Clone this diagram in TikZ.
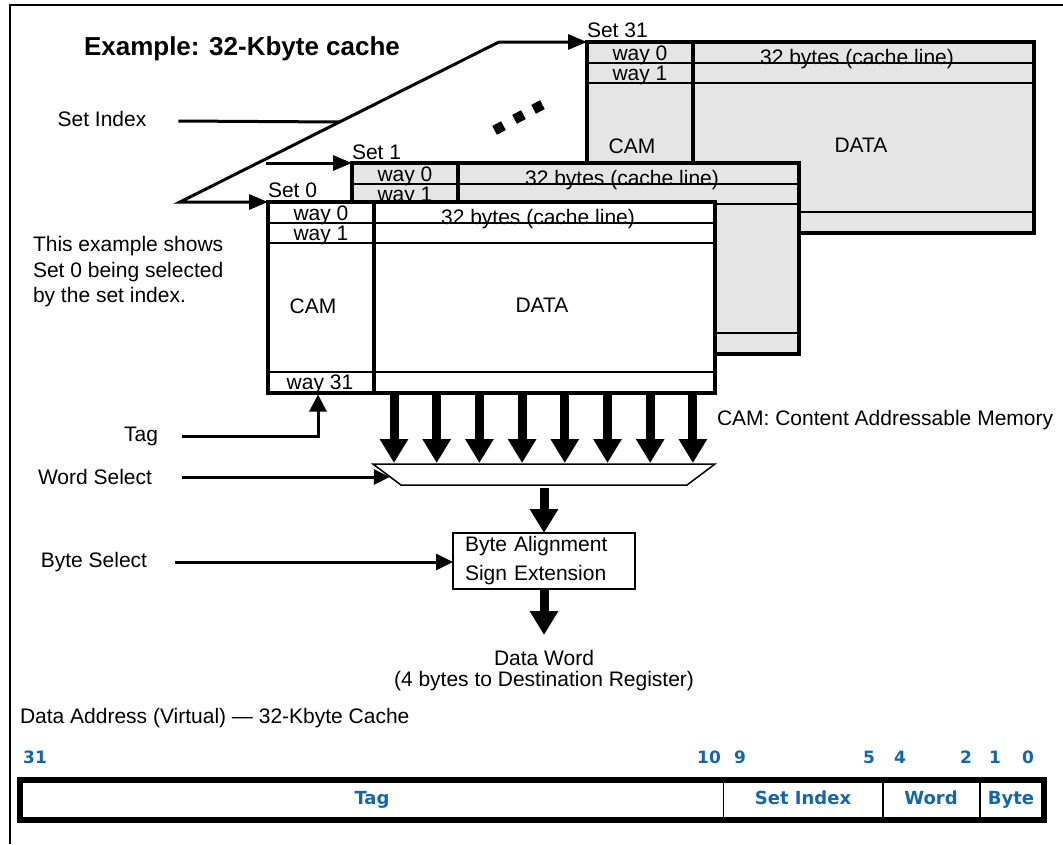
\documentclass[tikz,border=0pt]{standalone}
\usepackage{fontspec}
\setmainfont{Liberation Sans}
\newfontfamily\fieldfont{DejaVu Sans}
\usetikzlibrary{arrows.meta,calc}
\definecolor{setgray}{gray}{0.9}
\definecolor{fieldblue}{RGB}{21,101,172}

% outline, row rules and column rule of one cache set (447 x 191)
\newcommand\cacheframe[3]{%
  \node[setframe, fill=#3] (#1) at (#2) {};}
\newcommand\cacherules[1]{%
  \draw[rowline] ($(#1.north west)+(0,21)$) -- ($(#1.north east)+(0,21)$)
                 ($(#1.north west)+(0,41)$) -- ($(#1.north east)+(0,41)$)
                 ($(#1.south west)+(0,-21)$) -- ($(#1.south east)+(0,-21)$);
  \draw[colline] ($(#1.north west)+(106,0)$) -- ($(#1.south west)+(106,0)$);}
\newcommand\cachehead[1]{%
  \node[txt, anchor=base] (#1-w0) at ($(#1.north west)+(53,18)$) {way 0};
  \node[txt, anchor=base] (#1-w1) at ($(#1.north west)+(53,38)$) {way 1};
  \node[txt, anchor=base] (#1-line) at ($(#1.north west)+(270,22)$) {32 bytes (cache line)};}
\newcommand\cachebody[1]{%
  \node[txt] (#1-cam) at ($(#1.north west)+(45,104)$) {CAM};
  \node[txt] (#1-data) at ($(#1.north west)+(274,103)$) {DATA};}

\begin{document}
\begin{tikzpicture}[x=1pt,y=-1pt,
  every node/.style={inner sep=0pt, outer sep=0pt},
  txt/.style={font=\fontsize{21}{24}\selectfont},
  setframe/.style={draw, line width=3.5pt, anchor=north west,
                   minimum width=447pt, minimum height=191pt},
  rowline/.style={line width=1.6pt},
  colline/.style={line width=3.5pt},
  feed/.style={line width=3pt},
  settip/.tip={Triangle[length=19pt,width=15pt]},
  bus/.style={line width=9pt, -{Triangle[length=24pt,width=27pt]}},
  field/.style={font=\fieldfont\bfseries\fontsize{18}{20}\selectfont, text=fieldblue, anchor=base},
  bitno/.style={font=\fieldfont\bfseries\fontsize{17}{20}\selectfont, text=fieldblue, anchor=base},
  sqdot/.style={fill=black, minimum size=10pt, rotate=28},
]
\useasboundingbox (0,0) rectangle (1063,844);

% page frame
\draw[line width=2pt] (10,844) -- (10,5) -- (1063,5);

\node[anchor=base west, font=\bfseries\fontsize{26}{28}\selectfont] (title)
  at (84,55) {Example: 32-Kbyte cache};

% set 31 (back), set 1, set 0 (front)
\cacheframe{s31}{587,42}{setgray}
\cachehead{s31}
\cachebody{s31}
\cacherules{s31}
\node[txt, anchor=base west] (lab31) at ($(s31.north west)+(0,-5)$) {Set 31};

\cacheframe{s1}{352,163}{setgray}
\cachehead{s1}
\cacherules{s1}
\node[txt, anchor=base west] (lab1) at ($(s1.north west)+(0,-4)$) {Set 1};

\cacheframe{s0}{268,202}{white}
\cachehead{s0}
\cachebody{s0}
\node[txt, anchor=base] (s0-w31) at ($(s0.north west)+(52,187)$) {way 31};
\cacherules{s0}
\node[txt, anchor=base west] (lab0) at ($(s0.north west)+(0,-5)$) {Set 0};

% the sets between set 1 and set 31
\node[sqdot] (d1) at (499,128) {};
\node[sqdot] (d2) at (519,117) {};
\node[sqdot] (d3) at (538,107) {};

% set index decoding
\node[txt] (setidx) at (102,119) {Set Index};
\coordinate (fork) at (180,202);
\coordinate (bend) at (499,42);
\draw[feed, settip-settip] (s0.north west) -- (fork) -- (bend) -- (s31.north west);
\coordinate (siStart) at ($(setidx.east)+(32,2)$);
\draw[feed] (siStart) -- ($(fork)!0.5!(bend)$);
\coordinate (s1in) at (266,163);
\draw[feed, -settip] (s1in) -- (s1.north west);

\node[txt, anchor=west, align=left, font=\fontsize{21}{25.5}\selectfont] (note)
  at (33,272) {This example shows\\Set 0 being selected\\by the set index.};

% tag lookup
\node[txt] (tag) at (141,436) {Tag};
\draw[feed, -{Triangle[length=17pt,width=17pt]}]
  ($(tag.east)+(24,0)$) -| ($(s0.south west)+(50,1.5)$);

% word multiplexer
\coordinate (muxTL) at (373,464);
\coordinate (muxTR) at (715,464);
\coordinate (muxBR) at (687,485);
\coordinate (muxBL) at (401,485);
\draw[line width=1.5pt] (muxTL) -- (muxTR) -- (muxBR) -- (muxBL) -- cycle;
\foreach \k in {0,...,7}{
  \coordinate (b\k) at ($(s0.south west)+({126+42.7*\k},1.5)$);
  \draw[bus] (b\k) -- ($(b\k |- muxTL)+(0,-1)$);
}
\node[txt, anchor=west] (camnote) at (717,420) {CAM: Content Addressable Memory};

\node[txt] (wsel) at (95,477) {Word Select};
\coordinate (wsTip) at ($(muxTL)!0.6!(muxBL)$);
\coordinate (wsStart) at ($(wsel.east)+(30,0)$);
\draw[feed, -{Triangle[length=16pt,width=15pt]}] (wsStart) -- (wsStart -| wsTip);

% byte alignment
\node[draw, line width=2pt, minimum width=182pt, minimum height=56pt,
      text width=158pt, align=left, font=\fontsize{21}{29}\selectfont]
  (align) at (544,561) {Byte Alignment\\Sign Extension};
\coordinate (muxOut) at ($($(muxBL)!0.5!(muxBR)$)+(0,3)$);
\draw[bus] (muxOut) -- (align.north);

\node[txt] (bsel) at (94,562) {Byte Select};
\coordinate (bsStart) at ($(bsel.east)+(28,0)$);
\draw[feed, -{Triangle[length=17pt,width=16pt]}] (bsStart) -- (bsStart -| align.west);

\node[txt, align=center, font=\fontsize{21}{21}\selectfont] (dword)
  at (544,671) {Data Word\\(4 bytes to Destination Register)};
\draw[bus] (align.south) -- ($(align.south)+(0,46)$);

% address layout
\node[txt, anchor=west] (addr) at (20,718) {Data Address (Virtual) — 32-Kbyte Cache};
\node[draw, line width=6pt, anchor=north west, minimum width=1024pt, minimum height=40pt]
  (reg) at (20,780) {};
\foreach \xx in {703.5, 863, 960}
  \draw[line width=1.5pt] ($(reg.north west)+(\xx,0)$) -- ($(reg.south west)+(\xx,0)$);
\node[field] (fTag) at (372,804) {Tag};
\node[field] (fSet) at (803,804) {Set Index};
\node[field] (fWord) at (931,804) {Word};
\node[field] (fByte) at (1011,804) {Byte};
\foreach \xx/\t in {35/31, 709/10, 740/9, 869/5, 900/4, 966/2, 995/1, 1028/0}
  \node[bitno] (bit\t) at (\xx,763) {\t};
\end{tikzpicture}
\end{document}
